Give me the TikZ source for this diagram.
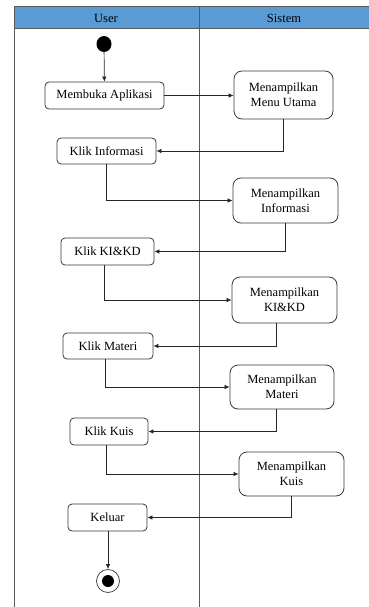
\documentclass[tikz,border=0pt]{standalone}
\usepackage{fontspec}
\setmainfont{Liberation Serif}
\usetikzlibrary{arrows.meta,shapes.geometric}
\definecolor{hdr}{HTML}{5B9BD5}
\definecolor{lane}{HTML}{5A5A5A}
\definecolor{boxc}{HTML}{3A3A3A}
\tikzset{
  act/.style={draw=boxc, line width=0.8pt, rounded corners=4pt, fill=white, align=center,
    inner sep=0pt, font=\fontsize{12.5}{15}\selectfont},
  bigact/.style={act, rounded corners=8pt},
  flow/.style={draw=black!85, line width=0.7pt, -{Latex[length=5pt,width=4.5pt]}},
  lanel/.style={draw=lane, line width=1pt},
  htext/.style={font=\fontsize{12.5}{15}\selectfont},
}
\begin{document}
\begin{tikzpicture}[x=1pt,y=-1pt]
\useasboundingbox (0,0) rectangle (369,607);
% header
\fill[hdr] (14,7) rectangle (369,29);
\draw[lanel] (14,7) -- (369,7);
\draw[lanel] (14,29) -- (369,29);
\draw[lanel] (14,7) -- (14,607);
\draw[lanel] (199,7) -- (199,607);
\node[htext] (hUser) at (106,18) {User};
\node[htext] (hSistem) at (284,18) {Sistem};
% initial
\node[ellipse, fill=black, minimum width=15pt, minimum height=16pt, inner sep=0pt] (start) at (104,44) {};
% activities
\node[act, minimum width=119pt, minimum height=27pt] (buka) at (104.5,95.5) {Membuka Aplikasi};
\node[bigact, minimum width=99pt, minimum height=48pt] (menu) at (283.5,95) {Menampilkan\\Menu Utama};
\node[act, minimum width=99pt, minimum height=26pt] (info) at (106.5,151) {Klik Informasi};
\node[bigact, minimum width=105pt, minimum height=45pt] (minfo) at (285.5,200.5) {Menampilkan\\Informasi};
\node[act, minimum width=93pt, minimum height=27pt] (kikd) at (107.5,251.5) {Klik KI\&KD};
\node[bigact, minimum width=105pt, minimum height=46pt] (mkikd) at (284.5,300) {Menampilkan\\KI\&KD};
\node[act, minimum width=90pt, minimum height=26pt] (materi) at (108,346) {Klik Materi};
\node[bigact, minimum width=104pt, minimum height=44pt] (mmateri) at (282,387) {Menampilkan\\Materi};
\node[act, minimum width=78pt, minimum height=27pt] (kuis) at (109,431.5) {Klik Kuis};
\node[bigact, minimum width=105pt, minimum height=44pt] (mkuis) at (291.5,474) {Menampilkan\\Kuis};
\node[act, minimum width=79pt, minimum height=27pt] (keluar) at (107.5,517.5) {Keluar};
% final
\node[circle, draw=black!70, line width=0.8pt, fill=white, minimum size=23pt, inner sep=0pt] (final) at (108,581) {};
\node[circle, fill=black, minimum size=12pt, inner sep=0pt] (finalin) at (final.center) {};
% flows
\draw[flow] (start) -- (buka);
\draw[flow] (buka.east) -- (buka.east -| menu.west);
\draw[flow] (menu.south) |- (info.east);
\draw[flow] (info.south) |- (minfo.west);
\draw[flow] (minfo.south) |- (kikd.east);
\draw[flow] ([xshift=-3pt]kikd.south) |- (mkikd.west);
\draw[flow] ([xshift=-8pt]mkikd.south) |- (materi.east);
\draw[flow] ([xshift=-3pt]materi.south) |- (mmateri.west);
\draw[flow] ([xshift=-6pt]mmateri.south) |- (kuis.east);
\draw[flow] ([xshift=-3pt]kuis.south) |- (mkuis.west);
\draw[flow] (mkuis.south) |- (keluar.east);
\draw[flow] (keluar.south -| final.north) -- (final.north);
\end{tikzpicture}
\end{document}
